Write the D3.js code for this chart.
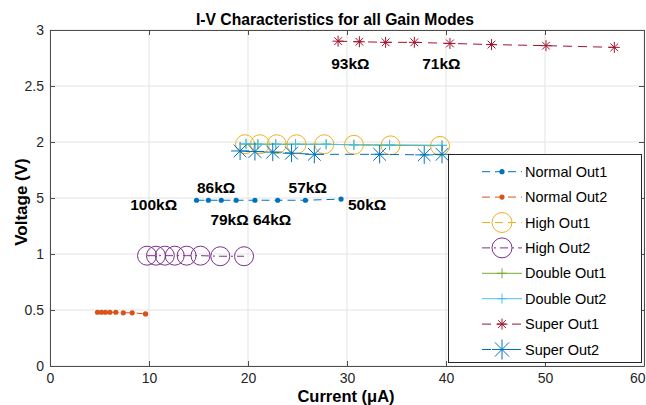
<!DOCTYPE html>
<html>
<head>
<meta charset="utf-8">
<script src="https://cdn.jsdelivr.net/npm/d3@7"></script>
<style>
  body { margin: 0; background: #fff; }
  text { font-family: "Liberation Sans", Arial, sans-serif; }
</style>
</head>
<body>
<svg id="chart" width="646" height="405"></svg>
<script>
// values (current in uA, voltage in V)
const normal1X = [14.8, 16.0, 17.3, 18.8, 20.7, 23.0, 25.8, 29.4];
const normal1Y = [1.48, 1.48, 1.48, 1.48, 1.48, 1.48, 1.48, 1.49];
const normal2X = [4.8, 5.2, 5.6, 6.05, 6.65, 7.4, 8.3, 9.65];
const normal2Y = [0.48, 0.48, 0.48, 0.48, 0.48, 0.475, 0.475, 0.465];
const high1X = [19.7, 21.2, 22.9, 24.9, 27.7, 30.7, 34.4, 39.4];
const high1Y = [1.98, 1.98, 1.98, 1.98, 1.98, 1.975, 1.97, 1.965];
const high2X = [9.8, 10.7, 11.6, 12.6, 13.8, 15.2, 17.2, 19.6];
const high2Y = [0.985, 0.985, 0.985, 0.985, 0.985, 0.985, 0.98, 0.98];
const double1X = [19.8, 21.0, 22.8, 24.8, 27.9, 30.7, 34.3, 39.6];
const double1Y = [1.98, 1.98, 1.98, 1.98, 1.98, 1.975, 1.97, 1.97];
const double2X = [19.8, 21.0, 22.8, 24.8, 27.9, 30.7, 34.3, 39.6];
const double2Y = [1.985, 1.98, 1.98, 1.98, 1.98, 1.975, 1.975, 1.97];
const super1X = [29.1, 31.25, 33.9, 36.8, 40.4, 44.6, 50.1, 57.0];
const super1Y = [2.90, 2.895, 2.89, 2.89, 2.88, 2.87, 2.86, 2.845];
const super2X = [19.2, 20.7, 22.5, 24.4, 26.7, 33.3, 37.8, 39.6];
const super2Y = [1.92, 1.915, 1.91, 1.90, 1.89, 1.89, 1.885, 1.89];

const seriesNames = ["Normal Out1", "Normal Out2", "High Out1", "High Out2",
                     "Double Out1", "Double Out2", "Super Out1", "Super Out2"];

// resistance annotations (data coordinates)
const noteText = ["100k\u03A9", "86k\u03A9", "79k\u03A9", "64k\u03A9", "57k\u03A9", "50k\u03A9", "93k\u03A9", "71k\u03A9"];
const noteX = [8.1, 14.85, 16.2, 20.5, 24.1, 30.1, 28.4, 37.6];
const noteY = [1.444, 1.592, 1.304, 1.304, 1.592, 1.444, 2.70, 2.70];

const xTicks = [0, 10, 20, 30, 40, 50, 60];
const yTicks = [0, 0.5, 1, 1.5, 2, 2.5, 3];

const svg = d3.select("#chart");
const plotL = 50, plotR = 644, plotT = 30, plotB = 366;

const x = d3.scaleLinear().domain([0, 60]).range([plotL, plotR]);
const y = d3.scaleLinear().domain([0, 3]).range([plotB, plotT]);

// style per series
const styles = [
  {color: "#0072BD", dash: "8,5", marker: "dot", size: 2.6},
  {color: "#D95319", dash: "8,5", marker: "dot", size: 2.6},
  {color: "#EDB120", dash: "8,5", marker: "circle", size: 9.5},
  {color: "#7E2F8E", dash: "8,4,2,4", marker: "circle", size: 9.5},
  {color: "#77AC30", dash: null, marker: "plus", size: 5},
  {color: "#4DBEEE", dash: null, marker: "plus", size: 5},
  {color: "#A2142F", dash: "9,6", marker: "star", size: 5.5},
  {color: "#0072BD", dash: "9,6", marker: "star", size: 9}
];
const xs = [normal1X, normal2X, high1X, high2X, double1X, double2X, super1X, super2X];
const ys = [normal1Y, normal2Y, high1Y, high2Y, double1Y, double2Y, super1Y, super2Y];

const series = seriesNames.map((name, i) => ({
  name: name,
  style: styles[i],
  points: xs[i].map((v, j) => ({x: v, y: ys[i][j]}))
}));

function markerPath(type, s) {
  const d = s * 0.7071;
  if (type === "plus") return `M${-s},0H${s}M0,${-s}V${s}`;
  if (type === "star") return `M${-s},0H${s}M0,${-s}V${s}M${-d},${-d}L${d},${d}M${-d},${d}L${d},${-d}`;
  return null;
}

function drawMarker(g, st, cx, cy) {
  if (st.marker === "dot") {
    g.append("circle").attr("cx", cx).attr("cy", cy).attr("r", st.size).attr("fill", st.color);
  } else if (st.marker === "circle") {
    g.append("circle").attr("cx", cx).attr("cy", cy).attr("r", st.size)
      .attr("fill", "none").attr("stroke", st.color).attr("stroke-width", 1);
  } else {
    g.append("path").attr("transform", `translate(${cx},${cy})`)
      .attr("d", markerPath(st.marker, st.size))
      .attr("fill", "none").attr("stroke", st.color).attr("stroke-width", 1);
  }
}

// grid
const grid = svg.append("g").attr("stroke", "#e3e3e3").attr("stroke-width", 1);
xTicks.forEach(t => grid.append("line").attr("x1", x(t)).attr("x2", x(t)).attr("y1", plotT).attr("y2", plotB));
yTicks.forEach(t => grid.append("line").attr("y1", y(t)).attr("y2", y(t)).attr("x1", plotL).attr("x2", plotR));

// axes on all four sides, ticks pointing in
const axisColor = "#4d4d4d";
function styleAxis(g) {
  g.select(".domain").attr("stroke", axisColor);
  g.selectAll(".tick line").attr("stroke", axisColor);
  g.selectAll(".tick text").attr("fill", "#262626").style("font-size", "14px")
    .style("font-family", "'Liberation Sans', Arial, sans-serif");
}
const xAxisG = svg.append("g").attr("transform", `translate(0,${plotB})`)
  .call(d3.axisBottom(x).tickValues(xTicks).tickSizeInner(-5).tickSizeOuter(0).tickPadding(7).tickFormat(d3.format("d")))
  .call(styleAxis);
// last label is pulled in so it stays inside the page
xAxisG.selectAll(".tick text").filter(d => d === 60).attr("text-anchor", "end").attr("x", 1);
svg.append("g").attr("transform", `translate(0,${plotT})`)
  .call(d3.axisTop(x).tickValues(xTicks).tickSizeInner(-5).tickSizeOuter(0).tickFormat(""))
  .call(styleAxis);
svg.append("g").attr("transform", `translate(${plotL},0)`)
  .call(d3.axisLeft(y).tickValues(yTicks).tickSizeInner(-5).tickSizeOuter(0).tickPadding(6).tickFormat(d => String(d)))
  .call(styleAxis);
svg.append("g").attr("transform", `translate(${plotR},0)`)
  .call(d3.axisRight(y).tickValues(yTicks).tickSizeInner(-5).tickSizeOuter(0).tickFormat(""))
  .call(styleAxis);

// series
const line = d3.line().x(d => x(d.x)).y(d => y(d.y));
series.forEach(s => {
  const g = svg.append("g");
  g.append("path").datum(s.points).attr("d", line)
    .attr("fill", "none").attr("stroke", s.style.color).attr("stroke-width", 1)
    .attr("stroke-dasharray", s.style.dash);
  s.points.forEach(p => drawMarker(g, s.style, x(p.x), y(p.y)));
});

// resistance notes
noteText.forEach((t, i) => {
  svg.append("text").attr("x", x(noteX[i])).attr("y", y(noteY[i]))
    .attr("dominant-baseline", "central")
    .style("font-size", "15.5px").style("font-weight", "bold").attr("fill", "#000")
    .text(t);
});

// legend
const lg = svg.append("g");
lg.append("rect").attr("x", 448.5).attr("y", 154.5).attr("width", 193).attr("height", 208)
  .attr("fill", "#fff").attr("stroke", "#262626").attr("stroke-width", 1);
series.forEach((s, i) => {
  const ry = 171.7 + i * 25.4;
  lg.append("line").attr("x1", 482).attr("x2", 522).attr("y1", ry).attr("y2", ry)
    .attr("stroke", s.style.color).attr("stroke-width", 1).attr("stroke-dasharray", s.style.dash);
  const st = Object.assign({}, s.style, {size: s.style.marker === "circle" ? 10 : s.style.marker === "star" && i === 7 ? 10 : s.style.size});
  drawMarker(lg, st, 502, ry);
  lg.append("text").attr("x", 525).attr("y", ry).attr("dominant-baseline", "central")
    .style("font-size", "14.5px").attr("fill", "#000").text(s.name);
});

// titles
svg.append("text").attr("x", 335).attr("y", 19).attr("text-anchor", "middle")
  .attr("dominant-baseline", "central").style("font-size", "15.7px").style("font-weight", "bold")
  .text("I-V Characteristics for all Gain Modes");
svg.append("text").attr("x", 346).attr("y", 396).attr("text-anchor", "middle")
  .attr("dominant-baseline", "central").style("font-size", "16.5px").style("font-weight", "bold")
  .text("Current (\u03BCA)");
// y label sits on a white patch, as in the original
svg.append("rect").attr("x", 11).attr("y", 154).attr("width", 24).attr("height", 97).attr("fill", "#fff");
svg.append("text").attr("transform", "translate(21.5,202) rotate(-90)").attr("text-anchor", "middle")
  .attr("dominant-baseline", "central").style("font-size", "17px").style("font-weight", "bold")
  .text("Voltage (V)");
</script>
</body>
</html>
